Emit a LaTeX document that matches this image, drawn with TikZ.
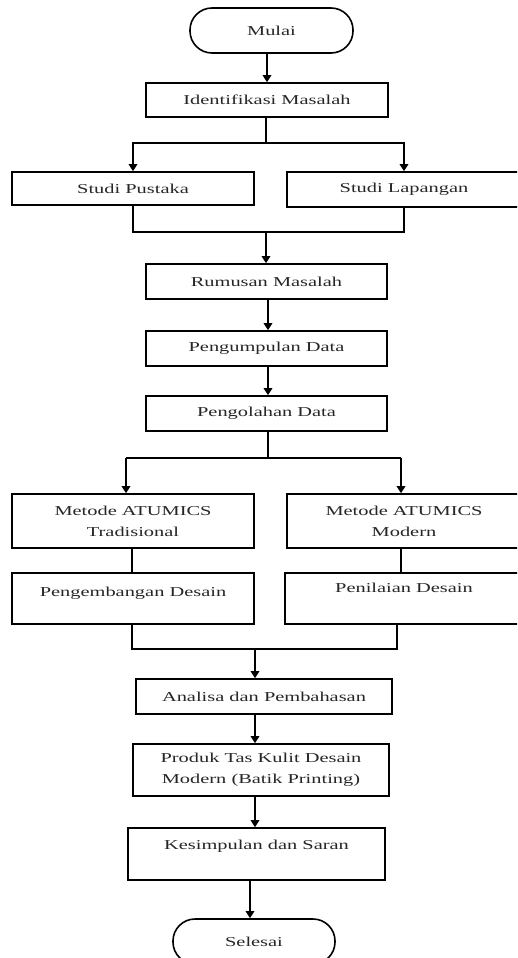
\documentclass[tikz,border=0pt]{standalone}
\usepackage{fontspec}
\setmainfont{Liberation Serif}[FakeStretch=1.5]
\usetikzlibrary{arrows.meta}
\begin{document}
\begin{tikzpicture}[x=1pt,y=-1pt,
  box/.style={draw, line width=1.6pt, minimum height=35pt, inner sep=0pt, align=center,
    font=\fontsize{13.6}{21}\selectfont, text=black!85},
  term/.style={box, rounded corners=22pt},
  arr/.style={line width=1.6pt, -{Triangle[width=8.5pt,length=7pt]}},
  ln/.style={line width=1.6pt}]
\clip (0,0) rectangle (517,958);
\fill[white] (0,0) rectangle (517,958);
% nodes
\node[term, minimum width=163pt, minimum height=45pt] (mulai) at (271.5,30.5) {Mulai};
\node[box, minimum width=242pt, minimum height=34pt] (ident) at (267,100) {Identifikasi Masalah};
\node[box, minimum width=242pt, minimum height=33pt] (pust) at (133,188.5) {Studi Pustaka};
\node[box, minimum width=234pt, minimum height=35pt] (lap) at (404,189.5) {Studi Lapangan};
\node[box, minimum width=241pt] (rum) at (266.5,281.5) {Rumusan Masalah};
\node[box, minimum width=241pt] (kump) at (266.5,348.5) {Pengumpulan Data};
\node[box, minimum width=241pt] (olah) at (266.5,413.5) {Pengolahan Data};
\node[box, minimum width=242pt, minimum height=54pt] (trad) at (133,521) {Metode ATUMICS\\Tradisional};
\node[box, minimum width=234pt, minimum height=54pt] (mod) at (404,521) {Metode ATUMICS\\Modern};
\node[box, minimum width=242pt, minimum height=51pt, text height=9pt, text depth=13pt] (kemb) at (133,598.5) {Pengembangan Desain};
\node[box, minimum width=238pt, minimum height=51pt, text height=9pt, text depth=21pt] (nilai) at (404,598.5) {Penilaian Desain};
\node[box, minimum width=256pt] (anal) at (264,696.5) {Analisa dan Pembahasan};
\node[box, minimum width=256pt, minimum height=52pt] (prod) at (261,770) {Produk Tas Kulit Desain\\Modern (Batik Printing)};
\node[box, minimum width=257pt, minimum height=52pt, text height=9pt, text depth=18pt] (kes) at (256.5,854) {Kesimpulan dan Saran};
\node[term, minimum width=162pt, minimum height=45pt] (sel) at (254,941.5) {Selesai};
% junction points
\coordinate (s1) at (266,143);
\coordinate (m1) at (266,232);
\coordinate (s2) at (268,458);
\coordinate (s2l) at (126,458);
\coordinate (s2r) at (401,458);
\coordinate (m2) at (255,649);
\coordinate (m2l) at (132,649);
\coordinate (m2r) at (397,649);
% connectors
\draw[arr] (mulai.south -| ident.north) -- (ident.north);
\draw[ln] (ident.south -| s1) -- (s1);
\draw[arr] (s1) -| (pust.north);
\draw[arr] (s1) -| (lap.north);
\draw[ln] (pust.south) |- (m1);
\draw[ln] (lap.south) |- (m1);
\draw[arr] (m1) -- (m1 |- rum.north);
\draw[arr] (rum.south -| 268,0) -- (kump.north -| 268,0);
\draw[arr] (kump.south -| s2) -- (kump.south -| s2) -- (olah.north -| s2);
\draw[ln] (olah.south -| s2) -- (s2);
\draw[ln] (s2l) -- (s2r);
\draw[arr] (s2l) -- (s2l |- trad.north);
\draw[arr] (s2r) -- (s2r |- mod.north);
\draw[ln] (trad.south -| m2l) -- (kemb.north -| m2l);
\draw[ln] (mod.south -| s2r) -- (nilai.north -| s2r);
\draw[ln] (kemb.south -| m2l) -- (m2l) -- (m2r) -- (nilai.south -| m2r);
\draw[arr] (m2) -- (m2 |- anal.north);
\draw[arr] (anal.south -| m2) -- (prod.north -| m2);
\draw[arr] (prod.south -| m2) -- (kes.north -| m2);
\draw[arr] (kes.south -| 250,0) -- (sel.north -| 250,0);
\end{tikzpicture}
\end{document}
